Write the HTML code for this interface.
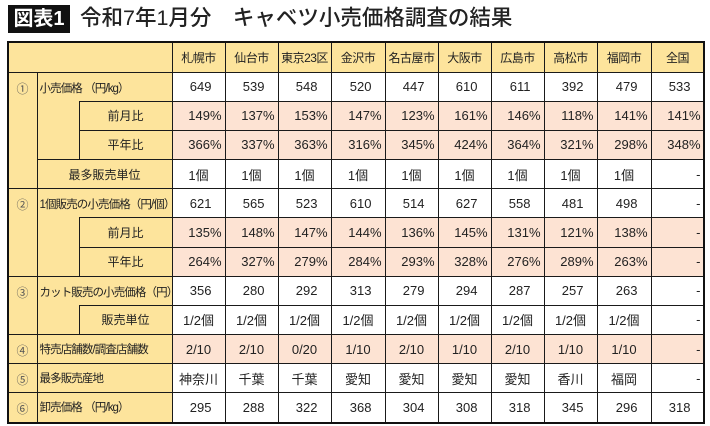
<!DOCTYPE html>
<html><head><meta charset="utf-8">
<style>
body{margin:0;width:710px;height:426px;background:#fff;position:relative;overflow:hidden;font-family:"Liberation Sans","Noto Sans CJK JP",sans-serif;color:#222}
.c{position:absolute;box-sizing:border-box;border:1px solid #1a1a1a;margin:-0.5px 0 0 -0.5px;font-size:13px;display:flex;align-items:center;white-space:nowrap}
.lab{font-size:11.5px;letter-spacing:-0.9px}
.sub{font-size:12px}
#ttl{position:absolute;left:8px;top:5px;width:62px;height:28px;background:#111;color:#fff;font-size:20px;font-weight:bold;line-height:28px;text-align:center}
#ttl2{position:absolute;left:80px;top:3px;font-size:21.5px;line-height:30px;font-weight:500;color:#222}
#frame{position:absolute;left:7px;top:41px;width:698px;height:383px;border:2px solid #111;box-sizing:border-box;pointer-events:none}
</style></head><body>
<div id="ttl">図表1</div>
<div id="ttl2">令和7年1月分　キャベツ小売価格調査の結果</div>
<div id="tbl"></div>
<div id="frame"></div>
<script>
const cities=["札幌市","仙台市","東京23区","金沢市","名古屋市","大阪市","広島市","高松市","福岡市","全国"];
const retailPrice=[649,539,548,520,447,610,611,392,479,533];
const retailMoM=["149%","137%","153%","147%","123%","161%","146%","118%","141%","141%"];
const retailYoY=["366%","337%","363%","316%","345%","424%","364%","321%","298%","348%"];
const topUnit=["1個","1個","1個","1個","1個","1個","1個","1個","1個","-"];
const singlePrice=[621,565,523,610,514,627,558,481,498,"-"];
const singleMoM=["135%","148%","147%","144%","136%","145%","131%","121%","138%","-"];
const singleYoY=["264%","327%","279%","284%","293%","328%","276%","289%","263%","-"];
const cutPrice=[356,280,292,313,279,294,287,257,263,"-"];
const cutUnit=["1/2個","1/2個","1/2個","1/2個","1/2個","1/2個","1/2個","1/2個","1/2個","-"];
const saleShops=["2/10","2/10","0/20","1/10","2/10","1/10","2/10","1/10","1/10","-"];
const origin=["神奈川","千葉","千葉","愛知","愛知","愛知","愛知","香川","福岡","-"];
const wholesale=[295,288,322,368,304,308,318,345,296,318];

const X=[8,37,79,172,225,278,331,385,438,491,544,597,651,704];
const Y0=72,RH=29.17;
const YEL="#fde49c",PINK="#fde3d3",WHITE="#fff";
const T=document.getElementById('tbl');
function ry(i){return Y0+RH*i;}
function cell(x1,y1,x2,y2,bg,text,align,pad,name){
  const d=document.createElement('div');
  d.className='c';
  d.style.left=x1+'px';d.style.top=y1+'px';
  d.style.width=(x2-x1+1)+'px';d.style.height=(y2-y1+1)+'px';
  d.style.background=bg;
  d.style.justifyContent=align||'center';
  if(pad)d.style.padding=align==='flex-end'?'0 '+pad+'px 0 0':'0 0 0 '+pad+'px';
  d.textContent=text||'';
  
  
  T.appendChild(d);
  return d;
}
cell(X[0],42,X[3],72,YEL,'','center',0,'header-corner');
cities.forEach((c,i)=>{const h=cell(X[3+i],42,X[4+i],72,YEL,c,'center',0,'header-'+(i+1));h.style.fontSize='12px';h.style.letterSpacing='-0.5px';});
const nums=[["①",0,4],["②",4,7],["③",7,9],["④",9,10],["⑤",10,11],["⑥",11,12]];
nums.forEach(n=>{const d=cell(X[0],ry(n[1]),X[1],ry(n[2]),YEL,n[0],'center',0,'section-number');
  d.style.alignItems='flex-start';d.style.paddingTop='7px';d.style.color='#555';d.style.fontSize='12px';});
function label(x1,r1,x2,r2,t,align,name){
  const d=cell(x1,ry(r1),x2,ry(r2),YEL,t,align,align==='flex-start'?2:0,name);
  d.classList.add(align==='flex-start'?'lab':'sub');
  return d;}
let a=label(X[1],0,X[3],3,'小売価格 （円/kg）','flex-start','label-retail-price');a.style.alignItems='flex-start';a.style.paddingTop='7px';
label(X[2],1,X[3],2,'前月比','center','label-retail-mom');
label(X[2],2,X[3],3,'平年比','center','label-retail-yoy');
label(X[1],3,X[3],4,'最多販売単位','center','label-top-unit');
a=label(X[1],4,X[3],7,'1個販売の小売価格（円/個）','flex-start','label-single-price');a.style.alignItems='flex-start';a.style.paddingTop='7px';
label(X[2],5,X[3],6,'前月比','center','label-single-mom');
label(X[2],6,X[3],7,'平年比','center','label-single-yoy');
a=label(X[1],7,X[3],9,'カット販売の小売価格（円）','flex-start','label-cut-price');a.style.alignItems='flex-start';a.style.paddingTop='7px';
label(X[2],8,X[3],9,'販売単位','center','label-cut-unit');
label(X[1],9,X[3],10,'特売店舗数/調査店舗数','flex-start','label-sale-shops');
label(X[1],10,X[3],11,'最多販売産地','flex-start','label-origin');
label(X[1],11,X[3],12,'卸売価格 （円/kg）','flex-start','label-wholesale');
const rows=[[retailPrice,WHITE,'num'],[retailMoM,PINK,'pct'],[retailYoY,PINK,'pct'],[topUnit,WHITE,'txt'],
[singlePrice,WHITE,'num'],[singleMoM,PINK,'pct'],[singleYoY,PINK,'pct'],[cutPrice,WHITE,'num'],[cutUnit,WHITE,'txt'],
[saleShops,PINK,'txt'],[origin,WHITE,'txt'],[wholesale,WHITE,'num']];
rows.forEach((r,ri)=>{
  r[0].forEach((v,ci)=>{
    const s=String(v);let al='center',pad=0;
    if(s==='-'){al='flex-end';pad=3;}
    else if(r[2]==='num'){al='flex-end';pad=13;}
    else if(r[2]==='pct'){al='flex-end';pad=3;}
    cell(X[3+ci],ry(ri),X[4+ci],ry(ri+1),r[1],s,al,pad,'cell-r'+(ri+1)+'-c'+(ci+1));
  });
});
</script>
</body></html>
